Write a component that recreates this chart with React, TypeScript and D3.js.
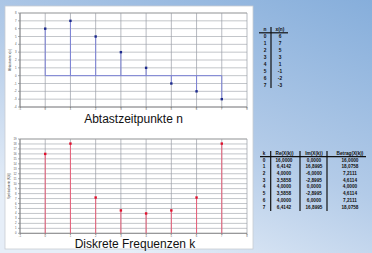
import React from "react";
import * as d3 from "d3";

const W = 372;
const H = 253;

// Top chart: sampled signal
const sampleIndex = [0, 1, 2, 3, 4, 5, 6, 7];
const sampleValues = [6, 7, 5, 3, 1, -1, -2, -3];
const topYTicks = [-4, -3, -2, -1, 0, 1, 2, 3, 4, 5, 6, 7, 8];
const xTicks = [-1, 0, 1, 2, 3, 4, 5, 6, 7, 8];

// Bottom chart: DFT magnitudes
const freqIndex = [0, 1, 2, 3, 4, 5, 6, 7];
const magnitudes = [16, 18.0758, 7.2111, 4.6114, 4, 4.6114, 7.2111, 18.0758];
const bottomYTicks = d3.range(0, 20);

// Tables
const tableN = ["0", "1", "2", "3", "4", "5", "6", "7"];
const tableXn = ["6", "7", "5", "3", "1", "-1", "-2", "-3"];
const tableK = ["0", "1", "2", "3", "4", "5", "6", "7"];
const tableRe = ["16,0000", "6,4142", "4,0000", "3,5858", "4,0000", "3,5858", "4,0000", "6,4142"];
const tableIm = ["0,0000", "16,8995", "-6,0000", "-2,8995", "0,0000", "-2,8995", "6,0000", "16,8995"];
const tableAbs = ["16,0000", "18,0758", "7,2111", "4,6114", "4,0000", "4,6114", "7,2111", "18,0758"];

const FONT = "'Liberation Sans', Arial, sans-serif";

function Grid({ x, y, yTicks, top, bottom }: any) {
  return (
    <g>
      {yTicks.map((t: number) => (
        <g key={"h" + t}>
          <line x1={x(-1)} x2={x(8)} y1={y(t)} y2={y(t)} stroke="#a9adb3" strokeWidth={0.7} />
          <line x1={x(-1) - 2} x2={x(-1)} y1={y(t)} y2={y(t)} stroke="#777" strokeWidth={0.6} />
          <text x={x(-1) - 3.5} y={y(t) + 1} fontSize={2.8} fill="#555" textAnchor="end" fontFamily={FONT}>
            {t}
          </text>
        </g>
      ))}
      {xTicks.map((t) => (
        <g key={"v" + t}>
          <line x1={x(t)} x2={x(t)} y1={top} y2={bottom} stroke="#9a9ea6" strokeWidth={0.7} />
          <line x1={x(t)} x2={x(t)} y1={bottom} y2={bottom + 1.5} stroke="#777" strokeWidth={0.6} />
          <text x={x(t)} y={bottom + 3.4} fontSize={2.6} fill="#555" textAnchor="middle" fontFamily={FONT}>
            {t}
          </text>
        </g>
      ))}
      <line x1={x(-1)} x2={x(-1)} y1={top} y2={bottom} stroke="#777" strokeWidth={0.8} />
      <line x1={x(-1)} x2={x(8)} y1={bottom} y2={bottom} stroke="#777" strokeWidth={0.8} />
      <line x1={x(-1)} x2={x(8)} y1={top} y2={top} stroke="#999" strokeWidth={0.7} />
    </g>
  );
}

export default function App() {
  const x = d3.scaleLinear().domain([-1, 8]).range([20, 247]);
  const yTop = d3.scaleLinear().domain([-4, 8]).range([107, 13]);
  const yBot = d3.scaleLinear().domain([0, 19]).range([233.3, 139]);

  const topRow = (i: number) => 36.7 + i * 6.9;
  const botRow = (i: number) => 160 + i * 6.7;

  return (
    <svg
      width={W}
      height={H}
      style={{ position: "absolute", left: 0, top: 0, display: "block" }}
    >
      <defs>
        <linearGradient id="bg" x1="1" y1="0" x2="0.35" y2="1">
          <stop offset="0" stopColor="#86aedb" />
          <stop offset="0.55" stopColor="#b3cbe8" />
          <stop offset="1" stopColor="#e6eef8" />
        </linearGradient>
      </defs>
      <rect x={0} y={0} width={W} height={H} fill="url(#bg)" />
      <rect x={5} y={6} width={248} height={243} fill="#ffffff" stroke="#c8ccd2" strokeWidth={0.8} />

      {/* Top chart */}
      <Grid x={x} y={yTop} yTicks={topYTicks} top={13} bottom={107} />
      <text
        transform={`translate(11,60) rotate(-90)`}
        fontSize={3}
        fill="#444"
        textAnchor="middle"
        fontFamily={FONT}
      >
        Abtastwerte x(n)
      </text>
      <line x1={x(0)} x2={x(7)} y1={yTop(0)} y2={yTop(0)} stroke="#7c82d6" strokeWidth={1} />
      {sampleIndex.map((n, i) => (
        <line key={"s" + n} x1={x(n)} x2={x(n)} y1={yTop(0)} y2={yTop(sampleValues[i])} stroke="#7c82d6" strokeWidth={1} />
      ))}
      {sampleIndex.map((n, i) => (
        <rect key={"m" + n} x={x(n) - 1.2} y={yTop(sampleValues[i]) - 1.2} width={2.4} height={2.4} fill="#1c2a8c" />
      ))}
      <text x={133.5} y={122.5} fontSize={12} textAnchor="middle" fontFamily={FONT} fill="#111">
        Abtastzeitpunkte n
      </text>

      {/* Bottom chart */}
      <Grid x={x} y={yBot} yTicks={bottomYTicks} top={139} bottom={233.3} />
      <text
        transform={`translate(10,186) rotate(-90)`}
        fontSize={3}
        fill="#444"
        textAnchor="middle"
        fontFamily={FONT}
      >
        Spektralwerte |X(k)|
      </text>
      {freqIndex.map((k, i) => (
        <line key={"fs" + k} x1={x(k)} x2={x(k)} y1={yBot(0)} y2={yBot(magnitudes[i])} stroke="#e8607a" strokeWidth={1} />
      ))}
      {freqIndex.map((k, i) => (
        <rect key={"fm" + k} x={x(k) - 1.2} y={yBot(magnitudes[i]) - 1.2} width={2.4} height={2.4} fill="#e0102c" />
      ))}
      <text x={135} y={247.8} fontSize={12} textAnchor="middle" fontFamily={FONT} fill="#111">
        Diskrete Frequenzen k
      </text>

      {/* Top table */}
      <g fontFamily={FONT} fontSize={4.8} fontWeight="bold" fill="#111" textAnchor="middle">
        <text x={265} y={31.4}>n</text>
        <text x={280} y={31.4}>x(n)</text>
        {tableN.map((v, i) => (
          <text key={"tn" + i} x={265} y={topRow(i) + 1.7}>{v}</text>
        ))}
        {tableXn.map((v, i) => (
          <text key={"tx" + i} x={280} y={topRow(i) + 1.7}>{v}</text>
        ))}
      </g>
      <line x1={259} x2={288} y1={32.8} y2={32.8} stroke="#111" strokeWidth={1.2} />
      <line x1={271} x2={271} y1={27} y2={88} stroke="#111" strokeWidth={1.2} />

      {/* Bottom table */}
      <g fontFamily={FONT} fontSize={4.7} fontWeight="bold" fill="#111" textAnchor="middle">
        <text x={264} y={155}>k</text>
        <text x={284.5} y={155}>Re(X(k))</text>
        <text x={314} y={155}>Im(X(k))</text>
        <text x={350} y={155}>Betrag(X(k))</text>
        {tableK.map((v, i) => (
          <text key={"bk" + i} x={264} y={botRow(i) + 1.6}>{v}</text>
        ))}
        {tableRe.map((v, i) => (
          <text key={"br" + i} x={284} y={botRow(i) + 1.6}>{v}</text>
        ))}
        {tableIm.map((v, i) => (
          <text key={"bi" + i} x={314} y={botRow(i) + 1.6}>{v}</text>
        ))}
        {tableAbs.map((v, i) => (
          <text key={"ba" + i} x={350} y={botRow(i) + 1.6}>{v}</text>
        ))}
      </g>
      <line x1={260} x2={366} y1={156.7} y2={156.7} stroke="#111" strokeWidth={1.2} />
      <line x1={270.7} x2={270.7} y1={151} y2={211} stroke="#111" strokeWidth={1.2} />
      <line x1={300} x2={300} y1={151} y2={211} stroke="#111" strokeWidth={1.2} />
      <line x1={327} x2={327} y1={151} y2={211} stroke="#111" strokeWidth={1.2} />
    </svg>
  );
}
